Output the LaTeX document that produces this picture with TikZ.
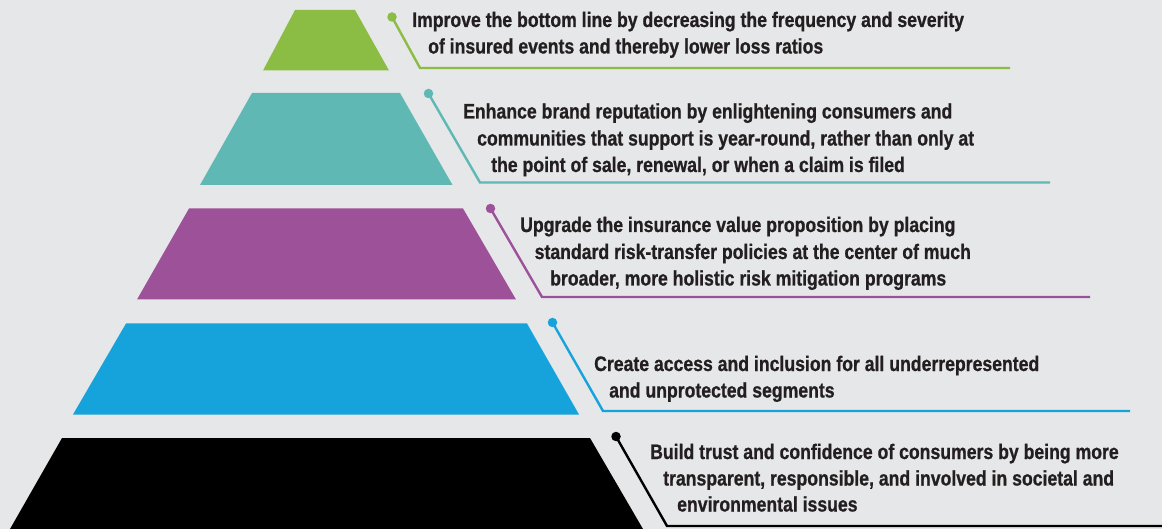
\documentclass[tikz,border=0pt]{standalone}
\usepackage{fontspec}
\setmainfont[FakeStretch=0.84, BoldFeatures={FakeBold=0.8}]{Liberation Sans}
\usepackage{xcolor}
\usetikzlibrary{positioning}
\definecolor{paper}{HTML}{E6E7E8}
\definecolor{ink}{HTML}{231F20}
\definecolor{leafgreen}{HTML}{8BBD44}
\definecolor{seateal}{HTML}{60B8B5}
\definecolor{plum}{HTML}{9D5199}
\definecolor{skyblue}{HTML}{16A3DB}
\tikzset{
x=1pt, y=-1pt, % one unit is one pixel of the picture, y runs down
lead/.style={line width=2.4pt, line join=miter}, % the lines from the dots to the text
pin/.style={circle, fill, inner sep=0pt, minimum size=9.5pt}, % the dots on the lines
say/.style={anchor=base west, inner sep=0pt, text=ink, font=\bfseries\fontsize{21}{24}\selectfont}, % text lines
}

\begin{document}
\begin{tikzpicture}
        \fill[paper] (0,0) rectangle (1162,529);
        \useasboundingbox (0,0) rectangle (1162,529);

        % the pyramid, top to bottom
        \fill[leafgreen] (295,10) -- (355,10) -- (389,70.5) -- (263,70.5) -- cycle;
        \fill[seateal] (252,93) -- (400,93) -- (452.5,185) -- (200,185) -- cycle;
        \fill[plum] (189,208.5) -- (463,208.5) -- (516,299.5) -- (137,299.5) -- cycle;
        \fill[skyblue] (126,323.5) -- (527,323.5) -- (579,414.5) -- (73,414.5) -- cycle;
        \fill[black] (62,438) -- (590,438) -- (643,529) -- (10,529) -- cycle;

        % dots, knees and line ends
        \node[pin, leafgreen] (g0) at (392,17) {};
        \coordinate (gk) at (420,68);
        \coordinate (ge) at (1010,68);
        \node[pin, seateal] (t0) at (428.5,93.5) {};
        \coordinate (tk) at (480,182.5);
        \coordinate (te) at (1050,182.5);
        \node[pin, plum] (p0) at (490.5,208.5) {};
        \coordinate (pk) at (542,297);
        \coordinate (pe) at (1090,297);
        \node[pin, skyblue] (b0) at (552.5,322.5) {};
        \coordinate (bk) at (603,411);
        \coordinate (be) at (1130,411);
        \node[pin, black] (k0) at (616,436.5) {};
        \coordinate (kk) at (667,526);
        \coordinate (ke) at (1170,526);

        \draw[lead, leafgreen] (g0.center) -- (gk) -- (ge);
        \draw[lead, seateal] (t0.center) -- (tk) -- (te);
        \draw[lead, plum] (p0.center) -- (pk) -- (pe);
        \draw[lead, skyblue] (b0.center) -- (bk) -- (be);
        \draw[lead, black] (k0.center) -- (kk) -- (ke);

        % the texts
        \node[say] (g1) at (412,27) {Improve the bottom line by decreasing the frequency and severity};
        \node[say] (g2) at (428,53.5) {of insured events and thereby lower loss ratios};

        \node[say] (t1) at (463,118.5) {Enhance brand reputation by enlightening consumers and};
        \node[say] (t2) at (477,145.5) {communities that support is year-round, rather than only at};
        \node[say] (t3) at (491,172) {the point of sale, renewal, or when a claim is filed};

        \node[say] (p1) at (520,232) {Upgrade the insurance value proposition by placing};
        \node[say] (p2) at (534.5,259) {standard risk-transfer policies at the center of much};
        \node[say] (p3) at (550,285.5) {broader, more holistic risk mitigation programs};

        \node[say] (b1) at (594,371) {Create access and inclusion for all underrepresented};
        \node[say] (b2) at (609,397.5) {and unprotected segments};

        \node[say] (k1) at (650,459) {Build trust and confidence of consumers by being more};
        \node[say] (k2) at (663,485.5) {transparent, responsible, and involved in societal and};
        \node[say] (k3) at (677,511.5) {environmental issues};
    \end{tikzpicture}
\end{document}
